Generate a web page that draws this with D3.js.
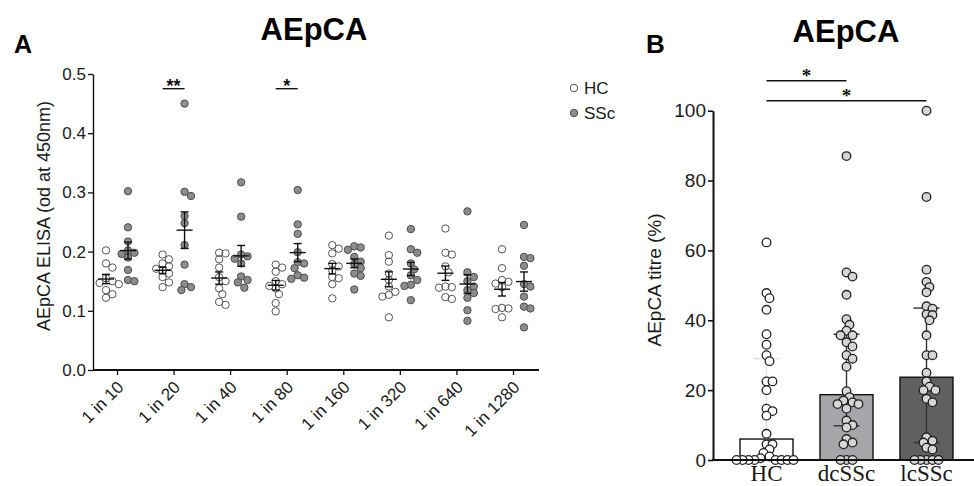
<!DOCTYPE html>
<html>
<head>
<meta charset="utf-8">
<script src="https://cdn.jsdelivr.net/npm/d3@7/dist/d3.min.js"></script>
<style>
  html, body { margin: 0; padding: 0; background: #fff; }
  svg { display: block; font-family: "Liberation Sans", Arial, sans-serif; }
</style>
</head>
<body>
<svg id="chart" width="974" height="486"></svg>
<script>
// ---------- Panel A data ----------
const dilutions = ["1 in 10", "1 in 20", "1 in 40", "1 in 80", "1 in 160", "1 in 320", "1 in 640", "1 in 1280"];
const groupsA = ["HC", "SSc"];
const yTicksA = [0.0, 0.1, 0.2, 0.3, 0.4, 0.5];
const hcValues = [
  [0.202, 0.180, 0.173, 0.155, 0.150, 0.147, 0.145, 0.135, 0.128, 0.122],
  [0.195, 0.187, 0.180, 0.175, 0.171, 0.168, 0.163, 0.157, 0.148, 0.140],
  [0.198, 0.197, 0.187, 0.173, 0.157, 0.150, 0.138, 0.128, 0.115, 0.110],
  [0.178, 0.173, 0.166, 0.150, 0.145, 0.142, 0.138, 0.128, 0.113, 0.099],
  [0.211, 0.205, 0.197, 0.179, 0.175, 0.168, 0.157, 0.155, 0.145, 0.121],
  [0.227, 0.194, 0.183, 0.163, 0.152, 0.141, 0.132, 0.127, 0.124, 0.089],
  [0.239, 0.198, 0.195, 0.175, 0.165, 0.141, 0.140, 0.139, 0.123, 0.120],
  [0.204, 0.172, 0.152, 0.149, 0.146, 0.140, 0.105, 0.104, 0.103, 0.089]
];
const sscValues = [
  [0.302, 0.241, 0.217, 0.202, 0.198, 0.196, 0.190, 0.169, 0.152, 0.150],
  [0.450, 0.301, 0.294, 0.260, 0.248, 0.211, 0.178, 0.145, 0.140, 0.135],
  [0.317, 0.259, 0.195, 0.192, 0.188, 0.180, 0.158, 0.152, 0.148, 0.139],
  [0.304, 0.246, 0.230, 0.199, 0.182, 0.180, 0.172, 0.160, 0.156, 0.154],
  [0.209, 0.207, 0.203, 0.191, 0.183, 0.179, 0.172, 0.163, 0.159, 0.136],
  [0.238, 0.204, 0.198, 0.180, 0.170, 0.160, 0.152, 0.144, 0.142, 0.118],
  [0.268, 0.165, 0.157, 0.150, 0.141, 0.135, 0.130, 0.122, 0.101, 0.083],
  [0.245, 0.191, 0.189, 0.176, 0.145, 0.141, 0.124, 0.107, 0.104, 0.072]
];
const sigA = [{cat: "1 in 20", label: "**"}, {cat: "1 in 80", label: "*"}];

// ---------- Panel B data ----------
const groupsB = ["HC", "dcSSc", "lcSSc"];
const yTicksB = [0, 20, 40, 60, 80, 100];
const medianB = [6, 18.7, 23.7];
const q1B = [0, 9.8, 5];
const q3B = [29, 36, 43.5];
const pointsHC = [62.3, 47.8, 46.3, 43, 36, 33, 30, 28.3, 22.5, 22.5, 20, 14.7, 14, 12.7, 7.5,
  4.5, 4.5, 3, 2, 1, 0.5, 0, 0, 0, 0, 0, 0, 0, 0];
const pointsDc = [87, 53.7, 52.5, 47.3, 40.3, 38.7, 37, 35.7, 35.7, 33.7, 32.5, 30, 29, 26.7,
  19.7, 18, 17, 16.5, 16, 16, 14.7, 11.3, 10, 9.3, 6, 5, 4.5, 0, 0, 0];
const pointsLc = [100, 75.3, 54.5, 51, 49.5, 48, 44, 43.3, 41.7, 41.5, 40, 35.7, 30, 30, 25,
  22.5, 21, 20, 20, 17.5, 16.5, 6.5, 5.5, 5, 3.5, 3, 0, 0, 0, 0, 0];
const pointsB = [pointsHC, pointsDc, pointsLc];
const sigB = [{from: "HC", to: "dcSSc", label: "*"}, {from: "HC", to: "lcSSc", label: "*"}];

// ---------- helpers ----------
function swarm(values, yScale, cx, minDist, step) {
  const placed = [];
  const order = values.map(v => v).sort((a, b) => b - a);
  const cands = [0];
  for (let j = 1; j < 40; j++) { cands.push(j * step, -j * step); }
  for (const v of order) {
    const y = yScale(v);
    let x = cx;
    for (const off of cands) {
      const xx = cx + off;
      if (placed.every(q => Math.hypot(q.x - xx, q.y - y) >= minDist)) { x = xx; break; }
    }
    placed.push({x, y, v});
  }
  return placed;
}

const SANS = '"Liberation Sans", Arial, sans-serif';
const SERIF = '"Liberation Serif", "Times New Roman", serif';
const svg = d3.select("#chart");

// ================= Panel A =================
const yA = d3.scaleLinear().domain([0, 0.5]).range([370, 74]);
const xA = d3.scalePoint().domain(dilutions).range([117, 513]);
const offA = d3.scalePoint().domain(groupsA).range([-11, 11]);
const gA = svg.append("g");

const yAxisA = d3.axisLeft(yA).tickValues(yTicksA).tickFormat(d3.format(".1f")).tickSize(5).tickSizeOuter(0);
gA.append("g").attr("transform", "translate(93,0)").call(yAxisA)
  .call(g => g.select(".domain").attr("stroke", "#111").attr("stroke-width", 1.4))
  .call(g => g.selectAll(".tick line").attr("stroke", "#111").attr("stroke-width", 1.3))
  .call(g => g.selectAll(".tick text").style("font-size", "17px").attr("fill", "#1a1a1a")
      .style("font-family", SANS).attr("x", -7));

gA.append("line").attr("x1", 93).attr("x2", 539).attr("y1", 370).attr("y2", 370)
  .attr("stroke", "#111").attr("stroke-width", 2);
const xAxisA = d3.axisBottom(xA).tickSize(5).tickSizeOuter(0);
gA.append("g").attr("transform", "translate(0,370)").call(xAxisA)
  .call(g => g.select(".domain").remove())
  .call(g => g.selectAll(".tick line").attr("stroke", "#111").attr("stroke-width", 1.3))
  .call(g => g.selectAll(".tick text").style("font-size", "17px").attr("fill", "#1a1a1a")
      .style("font-family", SANS)
      .attr("text-anchor", "end").attr("dy", "0.35em")
      .attr("transform", "translate(3,14) rotate(-45)").attr("y", 0).attr("x", 0));

gA.append("text").attr("transform", "translate(50,216) rotate(-90)")
  .attr("text-anchor", "middle").style("font-size", "18px").attr("fill", "#1a1a1a")
  .text("AEpCA ELISA (od at 450nm)");

dilutions.forEach((cat, i) => {
  [hcValues[i], sscValues[i]].forEach((vals, gi) => {
    const grp = groupsA[gi];
    const cx = xA(cat) + offA(grp);
    const pts = swarm(vals, yA, cx, 6.4, 3.2);
    gA.append("g").selectAll("circle").data(pts).join("circle")
      .attr("cx", d => d.x).attr("cy", d => d.y).attr("r", 3.7)
      .attr("fill", gi === 0 ? "#fff" : "#8c8c8c")
      .attr("fill-opacity", gi === 0 ? 0 : 1)
      .attr("stroke", gi === 0 ? "#555" : "#4d4d4d").attr("stroke-width", 1);
    const m = d3.mean(vals);
    const sem = d3.deviation(vals) / Math.sqrt(vals.length);
    const eg = gA.append("g").attr("stroke", "#111").attr("stroke-width", 1.4);
    eg.append("line").attr("x1", cx).attr("x2", cx).attr("y1", yA(m - sem)).attr("y2", yA(m + sem));
    eg.append("line").attr("x1", cx - 8).attr("x2", cx + 8).attr("y1", yA(m)).attr("y2", yA(m));
    eg.append("line").attr("x1", cx - 4).attr("x2", cx + 4).attr("y1", yA(m + sem)).attr("y2", yA(m + sem));
    eg.append("line").attr("x1", cx - 4).attr("x2", cx + 4).attr("y1", yA(m - sem)).attr("y2", yA(m - sem));
  });
});

sigA.forEach(s => {
  const x1 = xA(s.cat) + offA("HC"), x2 = xA(s.cat) + offA("SSc");
  gA.append("line").attr("x1", x1).attr("x2", x2).attr("y1", 88.7).attr("y2", 88.7)
    .attr("stroke", "#111").attr("stroke-width", 1.4);
  gA.append("text").attr("x", (x1 + x2) / 2).attr("y", 92).attr("text-anchor", "middle")
    .style("font-size", "18px").style("font-weight", "bold").attr("fill", "#111").text(s.label);
});

groupsA.forEach((g, i) => {
  const y = 88 + i * 25;
  gA.append("circle").attr("cx", 574).attr("cy", y).attr("r", 3.7)
    .attr("fill", i === 0 ? "#fff" : "#8c8c8c").attr("stroke", i === 0 ? "#555" : "#4d4d4d");
  gA.append("text").attr("x", 584).attr("y", y).attr("dy", "0.35em")
    .style("font-size", "17px").attr("fill", "#1a1a1a").text(g);
});

svg.append("text").attr("x", 314).attr("y", 40).attr("text-anchor", "middle")
  .style("font-size", "31px").style("font-weight", "bold").attr("fill", "#000").text("AEpCA");
svg.append("text").attr("x", 14).attr("y", 53)
  .style("font-size", "25px").style("font-weight", "bold").attr("fill", "#000").text("A");

// ================= Panel B =================
const yB = d3.scaleLinear().domain([0, 100]).range([460, 110.7]);
const xB = d3.scaleBand().domain(groupsB).range([726.5, 966.5]).paddingInner(0.3375).paddingOuter(0.16875);
const barFill = ["#ffffff", "#a6a6a9", "#606060"];
const ptFill = ["#ffffff", "#d6d6d6", "#d6d6d6"];
const gB = svg.append("g");

gB.selectAll("rect.bar").data(groupsB).join("rect").attr("class", "bar")
  .attr("x", d => xB(d)).attr("width", xB.bandwidth())
  .attr("y", (d, i) => yB(medianB[i])).attr("height", (d, i) => yB(0) - yB(medianB[i]))
  .attr("fill", (d, i) => barFill[i]).attr("stroke", "#111").attr("stroke-width", 1.4);

groupsB.forEach((g, i) => {
  const cx = xB(g) + xB.bandwidth() / 2;
  const col = i === 0 ? "#e2e2e2" : "#333";
  const eg = gB.append("g").attr("stroke", col).attr("stroke-width", 1.4);
  eg.append("line").attr("x1", cx).attr("x2", cx).attr("y1", yB(q1B[i])).attr("y2", yB(q3B[i]));
  eg.append("line").attr("x1", cx - 13).attr("x2", cx + 13).attr("y1", yB(q1B[i])).attr("y2", yB(q1B[i]));
  eg.append("line").attr("x1", cx - 13).attr("x2", cx + 13).attr("y1", yB(q3B[i])).attr("y2", yB(q3B[i]));
});

groupsB.forEach((g, i) => {
  const cx = xB(g) + xB.bandwidth() / 2;
  const pts = swarm(pointsB[i], yB, cx, 6.0, 3.0);
  gB.append("g").selectAll("circle").data(pts).join("circle")
    .attr("cx", d => d.x).attr("cy", d => d.y).attr("r", 4.3)
    .attr("fill", ptFill[i]).attr("stroke", "#222").attr("stroke-width", 1.3);
});

const yAxisB = d3.axisLeft(yB).tickValues(yTicksB).tickSize(5).tickSizeOuter(0);
gB.append("g").attr("transform", "translate(713,0)").call(yAxisB)
  .call(g => g.select(".domain").attr("stroke", "#111").attr("stroke-width", 2))
  .call(g => g.selectAll(".tick line").attr("stroke", "#111").attr("stroke-width", 1.6))
  .call(g => g.selectAll(".tick text").style("font-size", "19px").attr("fill", "#1a1a1a")
      .style("font-family", SANS).attr("x", -7));
gB.append("line").attr("x1", 712).attr("x2", 974).attr("y1", 460).attr("y2", 460)
  .attr("stroke", "#111").attr("stroke-width", 2);
gB.selectAll("text.xlab").data(groupsB).join("text").attr("class", "xlab")
  .attr("x", d => xB(d) + xB.bandwidth() / 2).attr("y", 481).attr("text-anchor", "middle")
  .style("font-family", SERIF).style("font-size", "23px")
  .attr("fill", "#1a1a1a").text(d => d);
gB.append("text").attr("transform", "translate(661,280) rotate(-90)")
  .attr("text-anchor", "middle").style("font-size", "19px").attr("fill", "#1a1a1a")
  .text("AEpCA titre (%)");

sigB.forEach((s, i) => {
  const x1 = xB(s.from) + xB.bandwidth() / 2, x2 = xB(s.to) + xB.bandwidth() / 2;
  const y = 80.7 + i * 20;
  gB.append("line").attr("x1", x1).attr("x2", x2).attr("y1", y).attr("y2", y)
    .attr("stroke", "#111").attr("stroke-width", 1.4);
  gB.append("text").attr("x", (x1 + x2) / 2).attr("y", y + 1).attr("text-anchor", "middle")
    .style("font-family", SERIF)
    .style("font-size", "19px").style("font-weight", "bold").attr("fill", "#111").text(s.label);
});

svg.append("text").attr("x", 846).attr("y", 42).attr("text-anchor", "middle")
  .style("font-size", "31px").style("font-weight", "bold").attr("fill", "#000").text("AEpCA");
svg.append("text").attr("x", 646).attr("y", 53)
  .style("font-size", "26px").style("font-weight", "bold").attr("fill", "#000").text("B");
</script>
</body>
</html>
